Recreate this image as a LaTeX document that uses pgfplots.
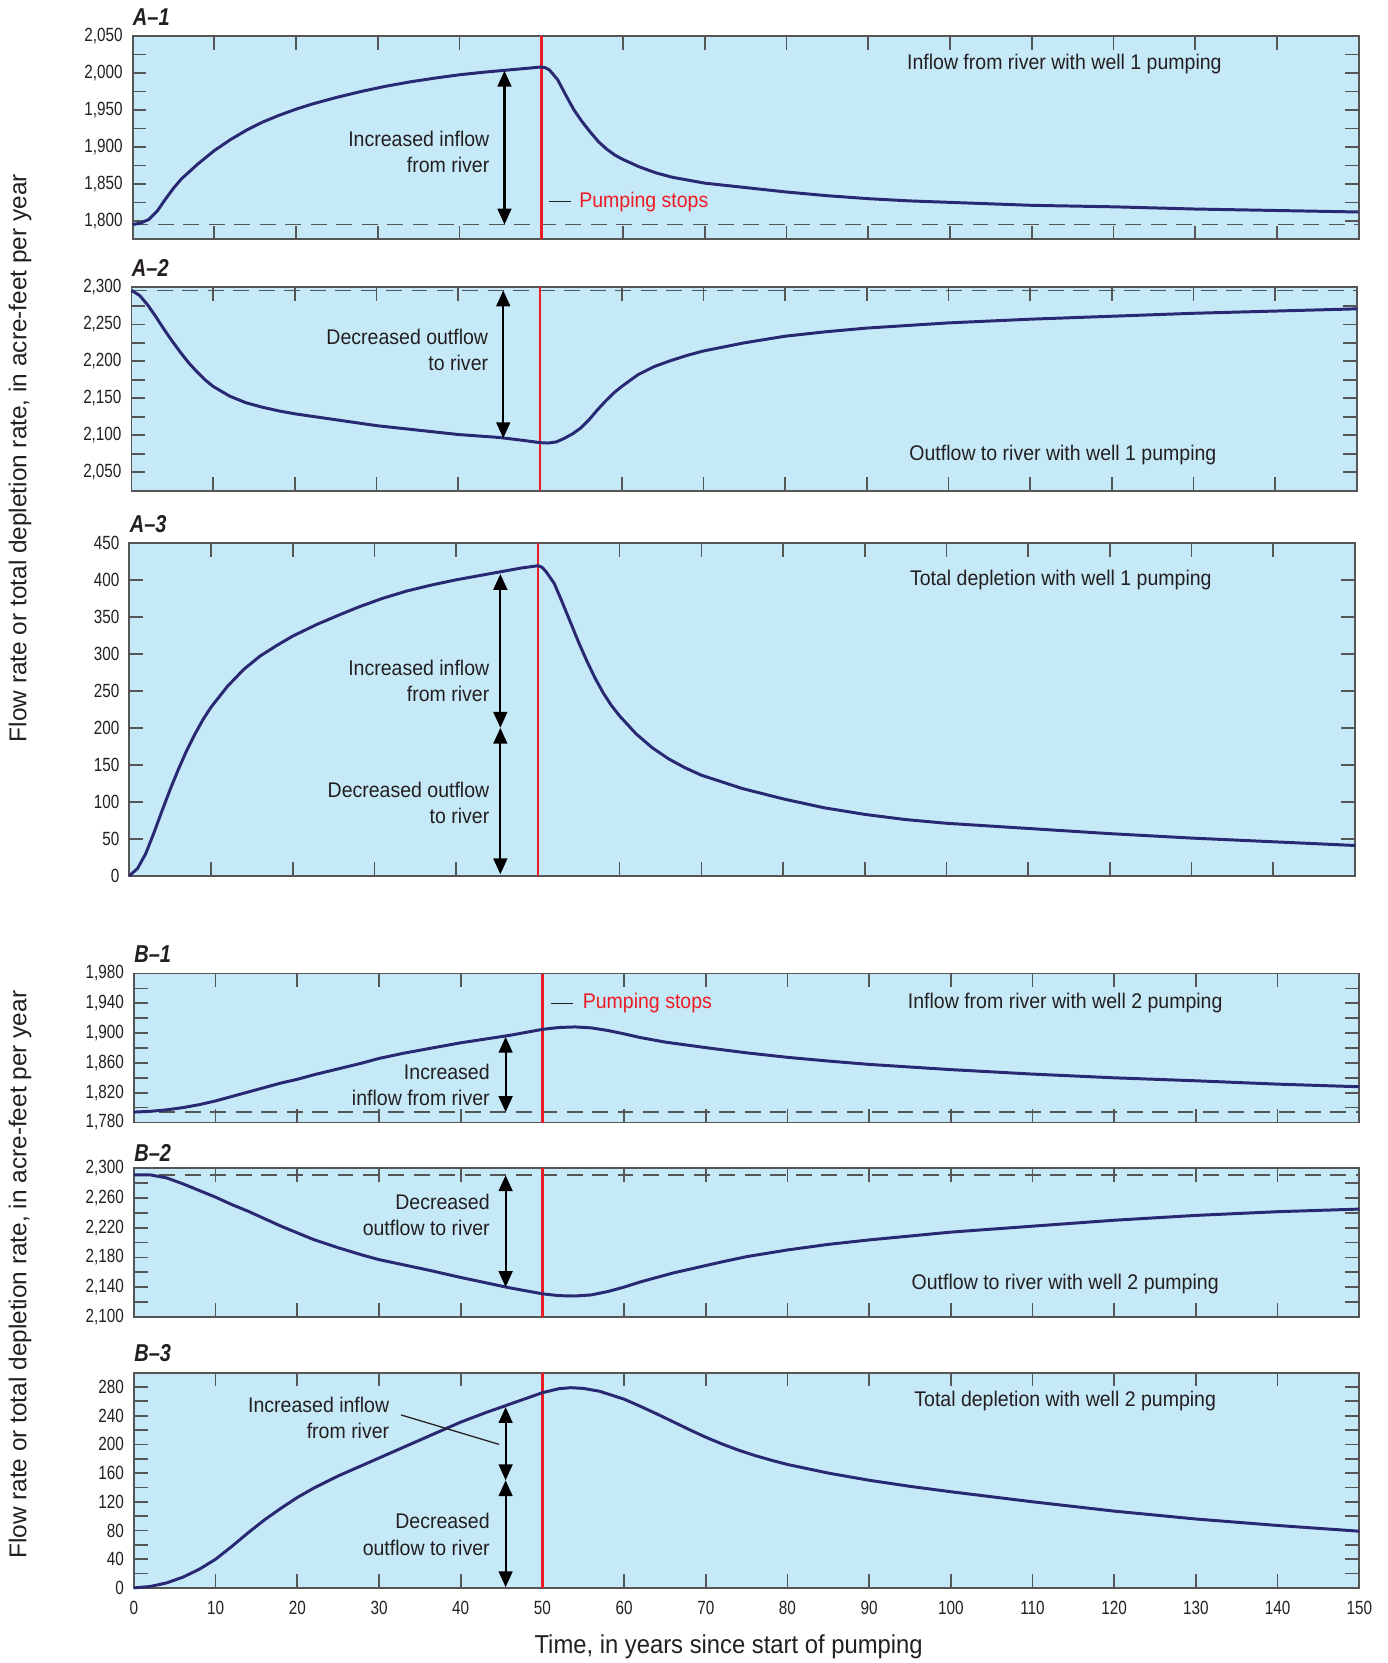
\documentclass[border=0pt]{standalone}
\usepackage{fontspec}
\setmainfont{Liberation Sans}[FakeStretch=0.92]
\newfontfamily\ylabfont{Liberation Sans}
\newfontfamily\tickfont{Liberation Sans}[FakeStretch=0.8]
\newfontfamily\plabfont{Liberation Sans}[FakeStretch=0.82]
\usepackage{pgfplots}
\pgfplotsset{compat=1.18}
\usetikzlibrary{arrows.meta}
\definecolor{bgblue}{RGB}{198,233,248}
\definecolor{navy}{RGB}{40,40,115}
\definecolor{pred}{RGB}{237,28,36}
\definecolor{axgray}{RGB}{85,85,85}
\definecolor{txt}{RGB}{35,31,32}
\newcommand\ticksize{\tickfont\fontsize{9}{10}\selectfont}
\newcommand\annsize{\fontsize{10}{12.3}\selectfont}
\tikzset{
  dbl/.style={{Triangle[length=7.5pt,width=6.5pt]}-{Triangle[length=7.5pt,width=6.5pt]}, line width=1pt, black},
  curve/.style={navy, line width=1.4pt, line join=round},
  base/.style={axgray, line width=0.8pt, dash pattern=on 7.5pt off 4.5pt},
  stop/.style={pred, line width=1.2pt},
  ann/.style={anchor=east, align=right, inner sep=0, font=\annsize, text=txt},
  ttl/.style={inner sep=0, font=\annsize, text=txt},
  plab/.style={anchor=west, inner sep=0, yshift=9pt, font=\plabfont\fontsize{11.5}{13}\selectfont\bfseries\itshape, text=txt},
}
\pgfplotsset{
 panel/.style={
  scale only axis, anchor=south west, clip=false,
  xmin=0, xmax=150, xtick={0,10,...,150}, xticklabels={},
  axis background/.style={fill=bgblue},
  axis line style={draw=axgray, line width=0.9pt},
  tick style={draw=axgray, line width=0.8pt},
  tick align=inside, xtick pos=both, ytick pos=both, yticklabel pos=left,
  major tick length=6.5pt, minor tick length=6.5pt,
  /pgf/number format/assume math mode=true,
  ticklabel style={font=\ticksize, text=txt},
  yticklabel style={xshift=-1.2pt},
  xticklabel style={yshift=-2.5pt},
 },
}
\begin{document}
\begin{tikzpicture}
\useasboundingbox (0,0) rectangle (654pt,784pt);

% ---------- A-1 ----------
\begin{axis}[panel, at={(62.5pt,671.15pt)}, width=578pt, height=95.9pt,
  ymin=1775, ymax=2050, ytick={1800,1850,...,2050}, minor y tick num=1]
\addplot[base] coordinates {(0,1795) (150,1795)};
\addplot[stop] coordinates {(50,1775) (50,2050)};
\addplot[curve] coordinates {
(0,1795) (1,1797) (2,1802) (3,1813) (4,1829) (5,1844) (6,1857) (7,1867) (8,1877) (9,1886)
(10,1895) (12,1910) (14,1923) (16,1934) (18,1943) (20,1951) (22,1958) (25,1967) (28,1975)
(31,1982) (34,1988) (37,1993) (40,1997.5) (43,2001) (46,2004) (48,2006) (50,2008) (50.5,2007)
(51,2004) (52,1991) (53,1970) (54,1950) (55,1934) (56,1920) (57,1907) (58,1897) (59,1889)
(60,1883) (62,1873) (64,1865) (66,1859) (68,1855) (70,1851) (75,1845) (80,1839) (85,1834)
(90,1830) (95,1827) (100,1825) (110,1821) (120,1819) (130,1816) (140,1814) (150,1812)};
\node[plab] at (rel axis cs:0,1) {A–1};
\node[ttl] at (axis cs:114,2012) {Inflow from river with well 1 pumping};
\node[ann] at (axis cs:43.7,1893) {Increased inflow\\from river};
\draw[dbl] (axis cs:45.5,2003) -- (axis cs:45.5,1795);
\draw[txt, line width=0.6pt] (axis cs:51,1826) -- (axis cs:53.6,1826);
\node[anchor=west, inner sep=0, font=\annsize, text=pred] at (axis cs:54.6,1826) {Pumping stops};
\end{axis}

% ---------- A-2 ----------
\begin{axis}[panel, at={(62pt,552.65pt)}, width=577.75pt, height=95.85pt,
  ymin=2025, ymax=2300, ytick={2050,2100,...,2300}, minor y tick num=1]
\addplot[base] coordinates {(0,2296) (150,2296)};
\addplot[stop] coordinates {(50,2025) (50,2300)};
\addplot[curve] coordinates {
(0,2296) (1,2289) (2,2276) (3,2260) (4,2243) (5,2227) (6,2212) (7,2198) (8,2186) (9,2175)
(10,2166) (12,2153) (14,2144) (16,2138) (18,2133) (20,2129) (25,2121) (30,2113) (35,2107)
(40,2101) (45,2097) (48,2093) (50,2090) (51,2089.5) (52,2091) (53,2096) (54,2102) (55,2110)
(56,2121) (57,2134) (58,2146) (59,2157) (60,2166) (62,2182) (64,2193) (66,2201) (68,2208)
(70,2214) (75,2225) (80,2234) (85,2240) (90,2245) (100,2252) (110,2257) (120,2261)
(130,2265) (140,2268) (150,2271)};
\node[plab] at (rel axis cs:0,1) {A–2};
\node[ttl] at (axis cs:114,2073) {Outflow to river with well 1 pumping};
\node[ann] at (axis cs:43.7,2216) {Decreased outflow\\to river};
\draw[dbl] (axis cs:45.5,2296) -- (axis cs:45.5,2096);
\end{axis}

% ---------- A-3 ----------
\begin{axis}[panel, at={(61pt,371.1pt)}, width=577.8pt, height=157pt,
  ymin=0, ymax=450, ytick={0,50,...,450}]
\addplot[stop] coordinates {(50,0) (50,450)};
\addplot[curve] coordinates {
(0,0) (1,10) (2,30) (3,58) (4,88) (5,117) (6,144) (7,169) (8,191) (9,211) (10,228)
(12,256) (14,279) (16,297) (18,311) (20,324) (23,340) (26,354) (28,363) (31,375) (34,385)
(37,393) (40,400) (43,406) (46,412) (48,416) (50,419) (50.5,417) (51,411) (52,395) (53,369)
(54,342) (55,315) (56,290) (57,267) (58,247) (59,230) (60,216) (62,192) (64,173) (66,158)
(68,146) (70,136) (75,118) (80,104) (85,92) (90,83) (95,76) (100,71) (110,64) (120,57)
(130,51) (140,46) (150,41)};
\node[plab] at (rel axis cs:0,1) {A–3};
\node[ttl] at (axis cs:114,400) {Total depletion with well 1 pumping};
\node[ann] at (axis cs:44.1,262.8) {Increased inflow\\from river};
\node[ann] at (axis cs:44.1,99) {Decreased outflow\\to river};
\draw[dbl] (axis cs:45.4,408) -- (axis cs:45.4,200);
\draw[dbl] (axis cs:45.4,200) -- (axis cs:45.4,2);
\end{axis}

% ---------- B-1 ----------
\begin{axis}[panel, at={(63.15pt,254.8pt)}, width=577.65pt, height=70.25pt,
  ymin=1780, ymax=1980, ytick={1780,1820,...,1980}, minor y tick num=1]
\addplot[base] coordinates {(0,1794) (150,1794)};
\addplot[stop] coordinates {(50,1780) (50,1980)};
\addplot[curve] coordinates {
(0,1794) (2,1795) (4,1797) (6,1800) (8,1804) (10,1809) (12,1815) (14,1821) (16,1827)
(18,1833) (20,1838) (22,1844) (25,1852) (28,1860) (30,1866) (33,1873) (36,1879) (40,1887)
(43,1892) (46,1897) (48,1901) (50,1905) (52,1907.5) (54,1908.3) (56,1907) (58,1903.5)
(60,1899) (62,1894) (65,1888) (68,1883.5) (70,1880.5) (75,1873.5) (80,1867.5) (85,1862.5)
(90,1858) (100,1851) (110,1845) (120,1840) (130,1836) (140,1831.5) (150,1828)};
\node[plab] at (rel axis cs:0,1) {B–1};
\node[ttl] at (axis cs:114,1940) {Inflow from river with well 2 pumping};
\node[ann] at (axis cs:43.6,1831) {Increased\\inflow from river};
\draw[dbl] (axis cs:45.5,1895) -- (axis cs:45.5,1794);
\draw[txt, line width=0.6pt] (axis cs:51.1,1940) -- (axis cs:53.7,1940);
\node[anchor=west, inner sep=0, font=\annsize, text=pred] at (axis cs:54.9,1940) {Pumping stops};
\end{axis}

% ---------- B-2 ----------
\begin{axis}[panel, at={(63.15pt,163.2pt)}, width=577.65pt, height=70.05pt,
  ymin=2100, ymax=2300, ytick={2100,2140,...,2300}, minor y tick num=1]
\addplot[base] coordinates {(0,2291) (150,2291)};
\addplot[stop] coordinates {(50,2100) (50,2300)};
\addplot[curve] coordinates {
(0,2291) (2,2291) (4,2287) (6,2279) (8,2270) (10,2261) (12,2251) (14,2242) (16,2232)
(18,2222) (20,2213) (22,2204) (25,2193) (28,2183) (30,2177) (33,2170) (36,2163) (40,2153)
(43,2146) (46,2139) (48,2135) (50,2131) (52,2128.5) (54,2128) (56,2129.5) (58,2134)
(60,2140) (62,2147) (64,2153) (66,2159) (68,2164) (70,2169) (72,2174) (75,2181) (80,2190)
(85,2197.5) (90,2203.5) (100,2214) (110,2222) (120,2230) (130,2236.5) (140,2241.5) (150,2245)};
\node[plab, yshift=-2pt] at (rel axis cs:0,1) {B–2};
\node[ttl] at (axis cs:114,2144) {Outflow to river with well 2 pumping};
\node[ann] at (axis cs:43.6,2237) {Decreased\\outflow to river};
\draw[dbl] (axis cs:45.5,2290.6) -- (axis cs:45.5,2140);
\end{axis}

% ---------- B-3 ----------
\begin{axis}[panel, at={(63.15pt,35.4pt)}, width=577.65pt, height=101.5pt,
  ymin=0, ymax=300, ytick={0,40,...,280}, minor y tick num=1,
  xticklabels={0,10,20,30,40,50,60,70,80,90,100,110,120,130,140,150}]
\addplot[stop] coordinates {(50,0) (50,300)};
\addplot[curve] coordinates {
(0,0) (2,2) (4,7) (6,15) (8,26) (10,40) (12,58) (14,77) (16,95) (18,111) (20,126)
(22,139) (25,156) (28,171) (30,181) (33,196) (36,211) (40,231) (43,244) (46,256) (48,264)
(50,272) (52,277.5) (53.5,279) (55,278) (57,274) (60,263) (62,253) (64,242.5) (66,231.5)
(68,220.5) (70,210) (72,200.5) (74,192) (76,184.5) (78,178) (80,172) (85,160) (90,150)
(95,141.5) (100,134) (110,120) (120,107) (130,96) (140,87) (150,79)};
\node[plab] at (rel axis cs:0,1) {B–3};
\node[ttl] at (axis cs:114,260) {Total depletion with well 2 pumping};
\node[ann] at (axis cs:31.3,236.8) {Increased inflow\\from river};
\draw[txt, line width=0.6pt] (axis cs:32.7,241) -- (axis cs:44.7,200);
\node[ann] at (axis cs:43.6,74.5) {Decreased\\outflow to river};
\draw[dbl] (axis cs:45.5,252) -- (axis cs:45.5,150);
\draw[dbl] (axis cs:45.5,150) -- (axis cs:45.5,1);
\end{axis}

% ---------- outer labels ----------
\node[rotate=90, inner sep=0, font=\ylabfont\fontsize{11.5}{13}\selectfont, text=txt] at (9.5pt,568pt)
  {Flow rate or total depletion rate, in acre-feet per year};
\node[rotate=90, inner sep=0, font=\ylabfont\fontsize{11.5}{13}\selectfont, text=txt] at (9.5pt,183pt)
  {Flow rate or total depletion rate, in acre-feet per year};
\node[inner sep=0, font=\fontsize{12.2}{14}\selectfont, text=txt] at (343.5pt,7.5pt)
  {Time, in years since start of pumping};
\end{tikzpicture}
\end{document}
